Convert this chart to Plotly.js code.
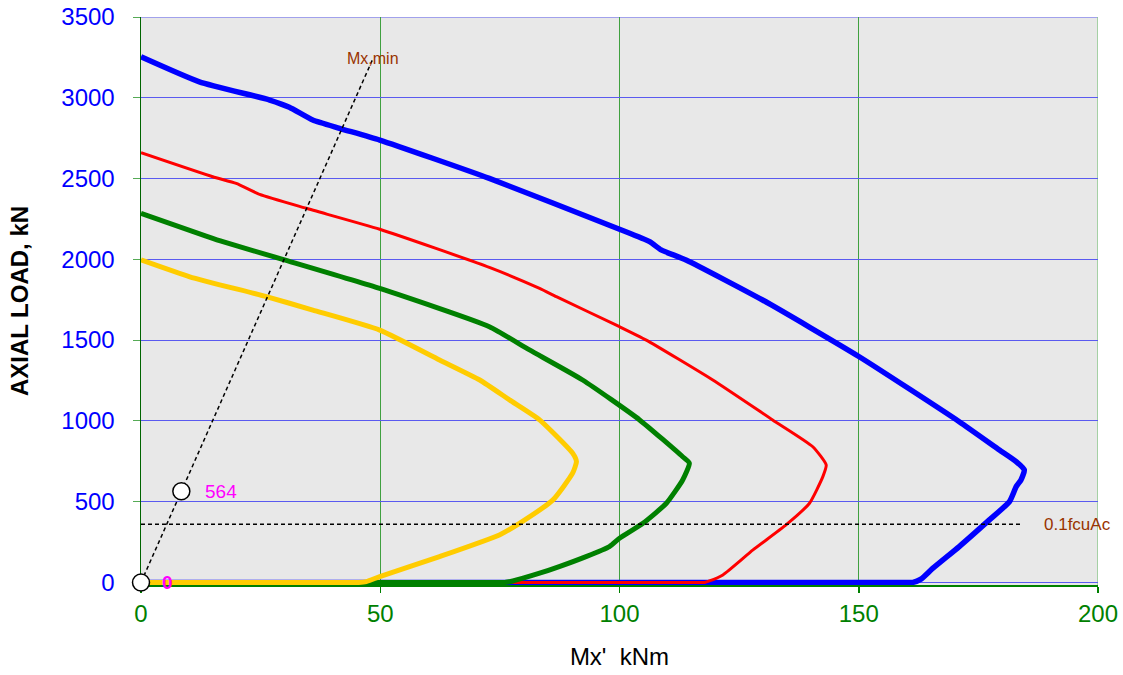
<!DOCTYPE html>
<html>
<head>
<meta charset="utf-8">
<script src="https://cdn.plot.ly/plotly-3.0.1.min.js"></script>
<style>html,body{margin:0;padding:0;background:#fff;}#chart{width:1123px;height:675px;}</style>
</head>
<body>
<div id="chart"></div>
<script>
// Interaction curves (Mx' kNm vs axial load kN)
const blueX = [0, 12.2, 26.9, 31, 35.9, 41.5, 49.9, 72.8, 100, 106.3, 108.7, 113.9, 129.9, 150.1, 171, 179.4, 182.9, 184.6, 183.9, 182.9, 181.5, 177.3, 171, 165.5, 163, 161.3, 158, 0];
const blueY = [3254, 3099, 2986, 2941, 2862, 2811, 2738, 2501, 2186, 2109, 2058, 1996, 1748, 1397, 995, 820, 748, 696, 634, 593, 500, 387, 222, 88, 20, 0, 0, 0];

const redX = [0, 15, 19.9, 24.8, 34.5, 49.9, 72.8, 83.3, 86.8, 100, 105.6, 119.5, 132, 140.4, 143.2, 142.5, 139.7, 134.8, 127.9, 121.6, 118.8, 117.8, 114, 0];
const redY = [2660, 2511, 2470, 2402, 2316, 2186, 1950, 1820, 1769, 1583, 1500, 1253, 1006, 840, 727, 655, 490, 356, 201, 46, 9, 0, 0, 0];

const greenX = [0, 13.6, 17.1, 29.6, 49.9, 72.8, 81.2, 92.3, 104.2, 113.2, 114.6, 113.2, 109.8, 104.9, 100, 97.9, 93, 87.4, 83.3, 77.7, 76, 72, 0];
const greenY = [2285, 2144, 2109, 2000, 1820, 1583, 1439, 1253, 1006, 778, 738, 634, 490, 366, 273, 222, 160, 98, 57, 9, 0, 0, 0];

const yellowX = [0, 10.2, 26.2, 35.9, 49.9, 62.4, 70.8, 77, 83.3, 90.2, 91, 90.2, 86.1, 79.1, 74.9, 62.4, 49.9, 47.1, 45.5, 42, 0];
const yellowY = [1996, 1892, 1769, 1686, 1562, 1377, 1253, 1130, 1006, 800, 748, 676, 511, 366, 294, 160, 36, 5, 0, 0, 0];

// Mx,min line and markers
const mxMinX = [0, 48.5];
const mxMinY = [0, 3244];
const pointX = [0, 8.43];
const pointY = [0, 564];
const pointLabels = ["0", "564"];
// 0.1 fcu Ac line
const fcuX = [0, 183.9];
const fcuY = [360, 360];

const xTicks = [0, 50, 100, 150, 200];
const yTicks = [0, 500, 1000, 1500, 2000, 2500, 3000, 3500];

const FONT = "Liberation Sans, Arial, sans-serif";
const SMOOTH = {shape: "spline", smoothing: 0.5};

const traces = [
  {x: blueX, y: blueY, mode: "lines", line: Object.assign({color: "#0000FF", width: 5.5}, SMOOTH), hoverinfo: "skip"},
  {x: redX, y: redY, mode: "lines", line: Object.assign({color: "#FF0000", width: 3}, SMOOTH), hoverinfo: "skip"},
  {x: greenX, y: greenY, mode: "lines", line: Object.assign({color: "#008000", width: 5}, SMOOTH), hoverinfo: "skip"},
  {x: yellowX, y: yellowY, mode: "lines", line: Object.assign({color: "#FFCC00", width: 5}, SMOOTH), hoverinfo: "skip"},
  {x: fcuX, y: fcuY, mode: "lines", line: {color: "#000000", width: 1.5, dash: "4px,3px"}, hoverinfo: "skip"},
  {x: mxMinX, y: mxMinY, mode: "lines", line: {color: "#000000", width: 1.5, dash: "4px,3px"}, hoverinfo: "skip"},
  {x: pointX, y: pointY, mode: "markers", cliponaxis: false,
   marker: {size: 17, color: "#FFFFFF", line: {color: "#000000", width: 1.5}}, hoverinfo: "skip"}
];

const layout = {
  width: 1123, height: 675,
  margin: {l: 141, r: 25, t: 17, b: 90},
  paper_bgcolor: "#FFFFFF",
  plot_bgcolor: "#E8E8E8",
  showlegend: false,
  font: {family: FONT},
  xaxis: {
    range: [0, 200], tickvals: xTicks, ticktext: xTicks.map(String),
    tickfont: {size: 24, color: "#008000", family: FONT},
    ticks: "outside", ticklen: 6, tickcolor: "#008000", tickwidth: 1.5,
    showgrid: true, gridcolor: "#3FA03F", gridwidth: 1,
    zeroline: false, showline: true, linecolor: "#008000", linewidth: 2,
    layer: "below traces",
    title: {text: "Mx'&nbsp;&nbsp;kNm", font: {size: 24, color: "#000000", family: FONT}, standoff: 22},
    fixedrange: true
  },
  yaxis: {
    range: [-16, 3500], tickvals: yTicks, ticktext: yTicks.map(String),
    tickfont: {size: 24, color: "#0000FF", family: FONT},
    ticks: "outside", ticklen: 7, tickcolor: "#55AA55", tickwidth: 1,
    ticklabelstandoff: 13,
    showgrid: true, gridcolor: "#5A5AF0", gridwidth: 1,
    zeroline: false, showline: true, linecolor: "#006400", linewidth: 1.5,
    layer: "below traces",
    title: {text: "<b>AXIAL LOAD, kN</b>", font: {size: 24, color: "#000000", family: FONT}, standoff: 26},
    fixedrange: true
  },
  shapes: [
    {type: "line", xref: "paper", yref: "y", x0: 0, x1: 1, y0: 3500, y1: 3500, layer: "below", line: {color: "#5A5AF0", width: 1}},
    {type: "line", xref: "x", yref: "paper", x0: 200, x1: 200, y0: 0, y1: 1, layer: "below", line: {color: "#8FC88F", width: 1.5}}
  ],
  annotations: [
    {x: mxMinX[1], y: mxMinY[1], text: "Mx,min", showarrow: false, xanchor: "center", yanchor: "middle",
     font: {size: 16, color: "#993300", family: FONT}},
    {x: 188.4, y: fcuY[0], text: "0.1fcuAc", showarrow: false, xanchor: "left", yanchor: "middle",
     font: {size: 17, color: "#993300", family: FONT}},
    {x: 12.9, y: pointY[1], text: pointLabels[1], showarrow: false, xanchor: "left", yanchor: "middle",
     font: {size: 19, color: "#FF00FF", family: FONT}},
    {x: 5.6, y: pointY[0], text: "<b>" + pointLabels[0] + "</b>", showarrow: false, xanchor: "center", yanchor: "middle",
     font: {size: 19, color: "#FF00FF", family: FONT}}
  ]
};

Plotly.newPlot("chart", traces, layout, {displayModeBar: false, staticPlot: true});
</script>
</body>
</html>
